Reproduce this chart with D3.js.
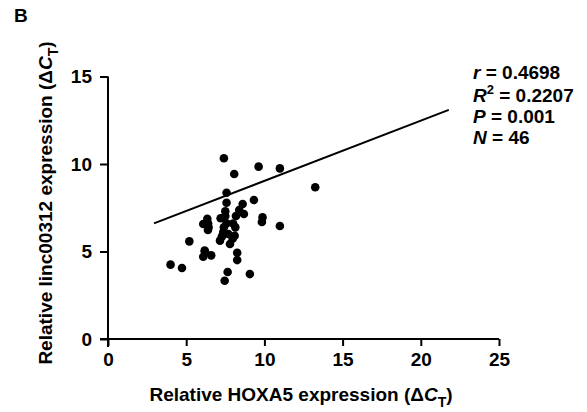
<!DOCTYPE html>
<html>
<head>
<meta charset="utf-8">
<script src="https://d3js.org/d3.v7.min.js"></script>
<style>
    html, body { margin: 0; background: #fff; }
    text { font-family: "Liberation Sans", Arial, sans-serif; font-weight: bold; fill: #000; }
</style>
</head>
<body>
<svg id="chart" width="587" height="412"></svg>
<script>
// HOXA5 dCt (x) vs linc00312 dCt (y)
var hoxa5 = [7.41, 9.63, 10.99, 8.07, 7.58, 7.58, 8.61, 9.33, 8.39, 8.69, 8.18, 7.50, 9.88, 9.84,
    6.35, 6.09, 6.43, 7.58, 7.41, 8.14, 6.39, 7.37, 7.28, 7.97, 7.16, 7.80, 5.20, 6.18, 6.09, 6.60,
    8.26, 8.26, 4.00, 4.73, 7.65, 9.07, 7.46, 10.99, 13.25,
    7.2, 7.7, 8.0, 6.2, 8.1, 7.5, 6.4];
var linc00312 = [10.33, 9.85, 9.75, 9.43, 8.36, 7.79, 7.71, 7.94, 7.37, 7.14, 7.03, 7.03, 6.95, 6.69,
    6.87, 6.57, 6.38, 6.61, 6.38, 6.38, 6.23, 6.11, 5.85, 5.73, 5.62, 5.43, 5.58, 5.05, 4.70, 4.78,
    4.93, 4.51, 4.25, 4.06, 3.83, 3.71, 3.33, 6.46, 8.67,
    6.9, 6.0, 6.6, 5.0, 5.9, 7.3, 6.6];
var fitX = [2.94, 21.79];
var fitY = [6.61, 13.09];
var xTicks = [0, 5, 10, 15, 20, 25];
var yTicks = [0, 5, 10, 15];

var svg = d3.select("#chart");
var x = d3.scaleLinear().domain([0, 25]).range([108, 499]);
var y = d3.scaleLinear().domain([0, 15]).range([339, 76.5]);

/* axes */
var xAxis = svg.append("g").attr("transform", "translate(0,339)")
    .call(d3.axisBottom(x).tickValues(xTicks).tickSize(7).tickPadding(7).tickFormat(d3.format("d")));
var yAxis = svg.append("g").attr("transform", "translate(108,0)")
    .call(d3.axisLeft(y).tickValues(yTicks).tickSize(8).tickPadding(8).tickFormat(d3.format("d")));
// axis line extends a bit left of the y axis, like Prism
xAxis.select(".domain").attr("d", "M100,0H499").attr("stroke-width", 2);
yAxis.select(".domain").attr("d", "M0,76.5V347").attr("stroke-width", 2);
svg.selectAll(".tick line").attr("stroke-width", 2);
svg.selectAll(".tick text").style("font-size", "19px").style("font-family", "Liberation Sans, Arial, sans-serif").style("font-weight", "bold");

/* fit line */
svg.append("line")
    .attr("x1", x(fitX[0])).attr("y1", y(fitY[0]))
    .attr("x2", x(fitX[1])).attr("y2", y(fitY[1]))
    .attr("stroke", "#000").attr("stroke-width", 2);

/* points */
svg.append("g").selectAll("circle")
    .data(hoxa5.map(function(d, i) { return [d, linc00312[i]]; }))
    .enter().append("circle")
    .attr("cx", function(d) { return x(d[0]); })
    .attr("cy", function(d) { return y(d[1]); })
    .attr("r", 4.3)
    .attr("fill", "#000");

/* labels */
svg.append("text").attr("x", 14).attr("y", 22).style("font-size", "19px").text("B");

var xt = svg.append("text").attr("x", 301).attr("y", 401).attr("text-anchor", "middle").style("font-size", "19px");
xt.append("tspan").text("Relative HOXA5 expression (Δ");
xt.append("tspan").style("font-style", "italic").text("C");
xt.append("tspan").attr("dy", 6).style("font-size", "14px").text("T");
xt.append("tspan").attr("dy", -6).text(")");

var yt = svg.append("text").attr("transform", "translate(52,203) rotate(-90)").attr("text-anchor", "middle").style("font-size", "19px");
yt.append("tspan").text("Relative linc00312 expression (Δ");
yt.append("tspan").style("font-style", "italic").text("C");
yt.append("tspan").attr("dy", 6).style("font-size", "14px").text("T");
yt.append("tspan").attr("dy", -6).text(")");

/* stats */
var stats = svg.append("g").attr("transform", "translate(473,0)").style("font-size", "19px");
var s1 = stats.append("text").attr("y", 79);
s1.append("tspan").style("font-style", "italic").text("r");
s1.append("tspan").text(" = 0.4698");
var s2 = stats.append("text").attr("y", 102);
s2.append("tspan").style("font-style", "italic").text("R");
s2.append("tspan").attr("dy", -8).style("font-size", "13px").text("2");
s2.append("tspan").attr("dy", 8).text(" = 0.2207");
var s3 = stats.append("text").attr("y", 123);
s3.append("tspan").style("font-style", "italic").text("P");
s3.append("tspan").text(" = 0.001");
var s4 = stats.append("text").attr("y", 144);
s4.append("tspan").style("font-style", "italic").text("N");
s4.append("tspan").text(" = 46");
</script>
</body>
</html>
